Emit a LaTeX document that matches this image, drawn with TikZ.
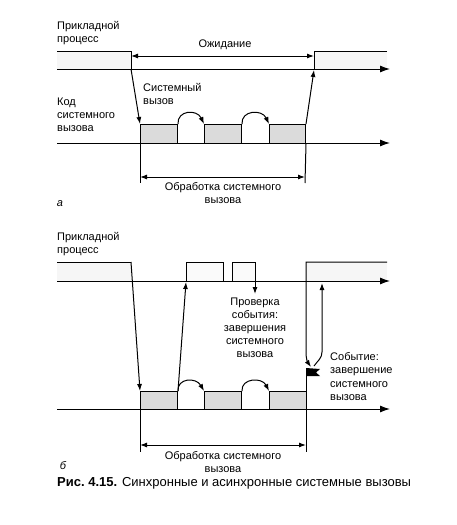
\documentclass[tikz,border=0pt]{standalone}
\usepackage{fontspec}
\setmainfont{Liberation Sans}
\usetikzlibrary{arrows.meta}
\begin{document}
\begin{tikzpicture}[x=1pt,y=-1pt,
  ln/.style={line width=1pt},
  tip/.style={-{Latex[length=7pt,width=5pt]}},
  dtip/.style={{Latex[length=7pt,width=5pt]}-{Latex[length=7pt,width=5pt]}},
  axis/.style={line width=1pt,-{Latex[length=10pt,width=7pt]}},
  blk/.style={draw,line width=1pt,fill=gray!28},
  proc/.style={fill=gray!7},
  lbl/.style={font=\fontsize{11}{13}\selectfont,inner sep=0pt},
  lblb/.style={font=\fontsize{11}{13.4}\selectfont,inner sep=0pt}]
\useasboundingbox (0,0) rectangle (457,525);

% ---------------- part a ----------------
\coordinate (a0) at (57,69);
\coordinate (a1) at (390,69);
\coordinate (b0) at (57,143);
\coordinate (b1) at (390,143);
\fill[proc] (57,51) rectangle (131,69);
\fill[proc] (314,51) rectangle (387,69);
\draw[axis] (a0) -- (a1);
\draw[axis] (b0) -- (b1);
\draw[ln] (57,51) -- (131,51) -- (131,69);
\draw[ln] (387,51) -- (314,51) -- (314,69);
\draw[ln,dtip] (131,56) -- (314,56);
\node[lbl] (wait) at (225,45) {Ожидание};
\node[lbl,anchor=north west,align=left] (appA) at (57,21) {Прикладной\\процесс};
\node[lbl,anchor=north west,align=left] (scA) at (143,83) {Системный\\вызов};
\node[lbl,anchor=north west,align=left] (codeA) at (57,98) {Код\\системного\\вызова};

\node[blk,minimum width=37pt,minimum height=19pt,anchor=north west,inner sep=0pt] (A1) at (140,124) {};
\node[blk,minimum width=37pt,minimum height=19pt,anchor=north west,inner sep=0pt] (A2) at (204,124) {};
\node[blk,minimum width=36pt,minimum height=19pt,anchor=north west,inner sep=0pt] (A3) at (269,124) {};

\draw[ln,tip] (131,69) -- (A1.north west);
\draw[ln,tip] (A3.north east) -- (314,70);
\draw[ln,tip] (A1.north east) .. controls (177,110) and (197,109) .. (A2.north west);
\draw[ln,tip] (A2.north east) .. controls (241,110) and (262,109) .. (A3.north west);
\draw[ln] (A1.south west) -- (140,183);
\draw[ln] (A3.south east) -- (305,183);
\draw[ln,dtip] (140,177) -- (305,177);
\node[lbl,anchor=north,align=center] (procA) at (223,182) {Обработка системного\\вызова};
\node[lbl,font=\fontsize{11}{13}\selectfont\itshape] (la) at (60,204) {а};

% ---------------- part b ----------------
\coordinate (c0) at (57,281);
\coordinate (c1) at (390,281);
\coordinate (d0) at (57,409);
\coordinate (d1) at (390,409);
\fill[proc] (57,262) rectangle (131,281);
\fill[proc] (306,262) rectangle (387,281);
\fill[gray!4] (186,262) rectangle (223,281);
\fill[gray!4] (232,262) rectangle (255,281);
\draw[axis] (c0) -- (c1);
\draw[axis] (d0) -- (d1);
\node[lbl,anchor=north west,align=left] (appB) at (57,232) {Прикладной\\процесс};

\node[blk,minimum width=37pt,minimum height=18pt,anchor=north west,inner sep=0pt] (B1) at (140,391) {};
\node[blk,minimum width=37pt,minimum height=18pt,anchor=north west,inner sep=0pt] (B2) at (204,391) {};
\node[blk,minimum width=37pt,minimum height=18pt,anchor=north west,inner sep=0pt] (B3) at (269,391) {};

\draw[ln] (57,262) -- (131,262);
\draw[ln,tip] (131,262) -- (B1.north west);
\draw[ln,tip] (B1.north east) -- (186,282);
\draw[ln] (186,281) -- (186,262) -- (223,262) -- (223,281);
\draw[ln,tip] (232,281) -- (232,262) -- (255,262) -- (255,294);
\draw[ln,tip] (B1.north east) .. controls (177,378) and (196,377) .. (B2.north west);
\draw[ln,tip] (B2.north east) .. controls (241,378) and (262,377) .. (B3.north west);

\node[lbl,anchor=north,align=center] (check) at (255,298) {Проверка\\события:\\завершения\\системного\\вызова};

\draw[ln,tip] (387,262) -- (306,262) -- (306,352) to[out=-90,in=125] (311,367);
\draw[ln,tip] (314,366) to[out=55,in=-90] (322,352) -- (322,283);
\fill (306,368) -- (320,369) -- (316,372.5) -- (320,376) -- (306,376) -- cycle;
\draw[ln] (306,368) -- (306,452);
\draw[ln] (B1.south west) -- (140,452);
\draw[ln,dtip] (140,445) -- (306,445);
\node[lblb,anchor=north west,align=left] (event) at (330,352) {Событие:\\завершение\\системного\\вызова};
\node[lbl,anchor=north,align=center] (procB) at (223,451) {Обработка системного\\вызова};
\node[lbl,font=\fontsize{11}{13}\selectfont\itshape] (lb) at (63,466) {б};

\node[anchor=west,inner sep=0pt,font=\fontsize{13}{15}\selectfont] (cap) at (57,483) {\textbf{Рис.~4.15.} Синхронные и асинхронные системные вызовы};
\end{tikzpicture}
\end{document}
